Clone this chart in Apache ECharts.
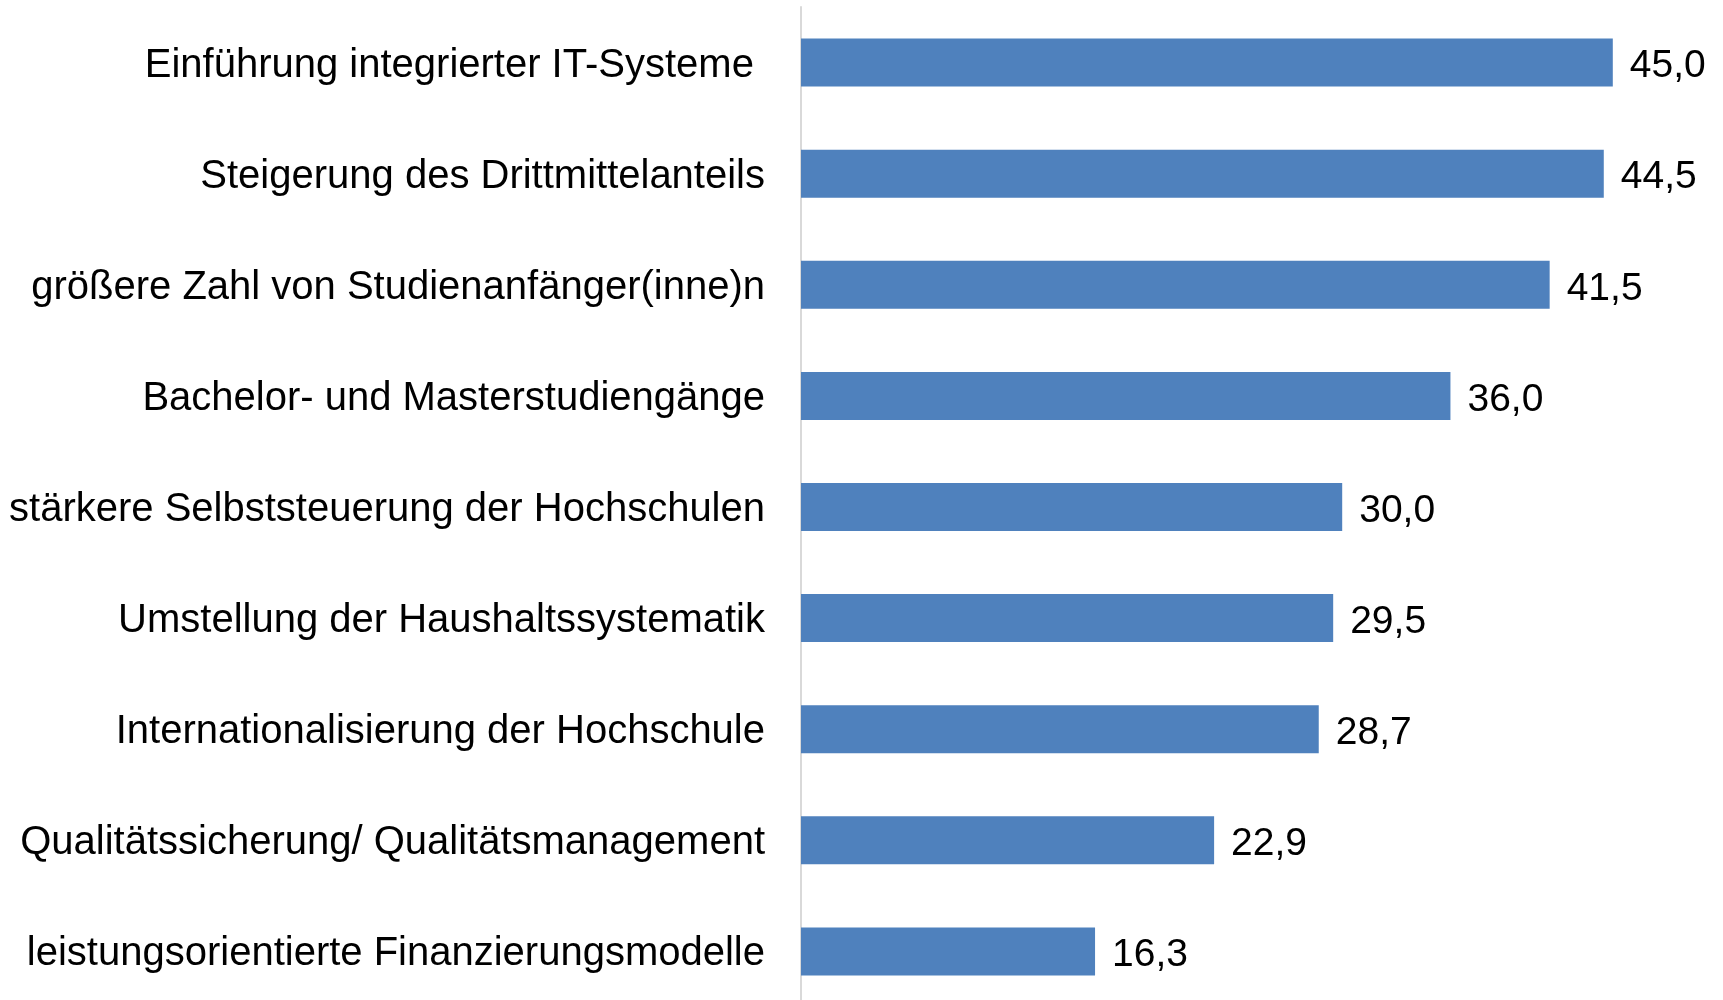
<!DOCTYPE html>
<html>
<head>
<meta charset="utf-8">
<script src="https://cdn.jsdelivr.net/npm/echarts@6/dist/echarts.min.js"></script>
<style>
  html, body { margin: 0; padding: 0; background: #fff; overflow: hidden; }
  #chart { width: 1723px; height: 1012px; }
</style>
</head>
<body>
<div id="chart"></div>
<script>
// Kategorien von oben nach unten
var categories = [
  'Einführung integrierter IT-Systeme ',
  'Steigerung des Drittmittelanteils',
  'größere Zahl von Studienanfänger(inne)n',
  'Bachelor- und Masterstudiengänge',
  'stärkere Selbststeuerung der Hochschulen',
  'Umstellung der Haushaltssystematik',
  'Internationalisierung der Hochschule',
  'Qualitätssicherung/ Qualitätsmanagement',
  'leistungsorientierte Finanzierungsmodelle'
];
var values = [45.0, 44.5, 41.5, 36.0, 30.0, 29.5, 28.7, 22.9, 16.3];

var myChart = echarts.init(document.getElementById('chart'));
var option;

option = {
  animation: false,
  grid: {
    left: 801,
    width: 902,
    top: 7,
    height: 1000
  },
  xAxis: {
    type: 'value',
    min: 0,
    max: 50,
    show: false
  },
  yAxis: {
    type: 'category',
    inverse: true,
    data: categories,
    axisLine: {
      show: true,
      lineStyle: { color: '#d9d9d9', width: 2 }
    },
    axisTick: { show: false },
    axisLabel: {
      margin: 36,
      formatter: function (v) {
        return '{t|' + v + '}';
      },
      rich: {
        t: {
          padding: [6, 0, 0, 0],
          color: '#000',
          fontFamily: 'Liberation Sans, Arial, sans-serif',
          fontSize: 40
        }
      }
    }
  },
  series: [
    {
      type: 'bar',
      data: values,
      barWidth: 48,
      itemStyle: { color: '#4f81bd' },
      label: {
        show: true,
        position: 'right',
        distance: 17,
        offset: [0, 4],
        color: '#000',
        fontFamily: 'Liberation Sans, Arial, sans-serif',
        fontSize: 39,
        formatter: function (p) {
          return p.value.toFixed(1).replace('.', ',');
        }
      }
    }
  ]
};

option && myChart.setOption(option);
</script>
</body>
</html>
